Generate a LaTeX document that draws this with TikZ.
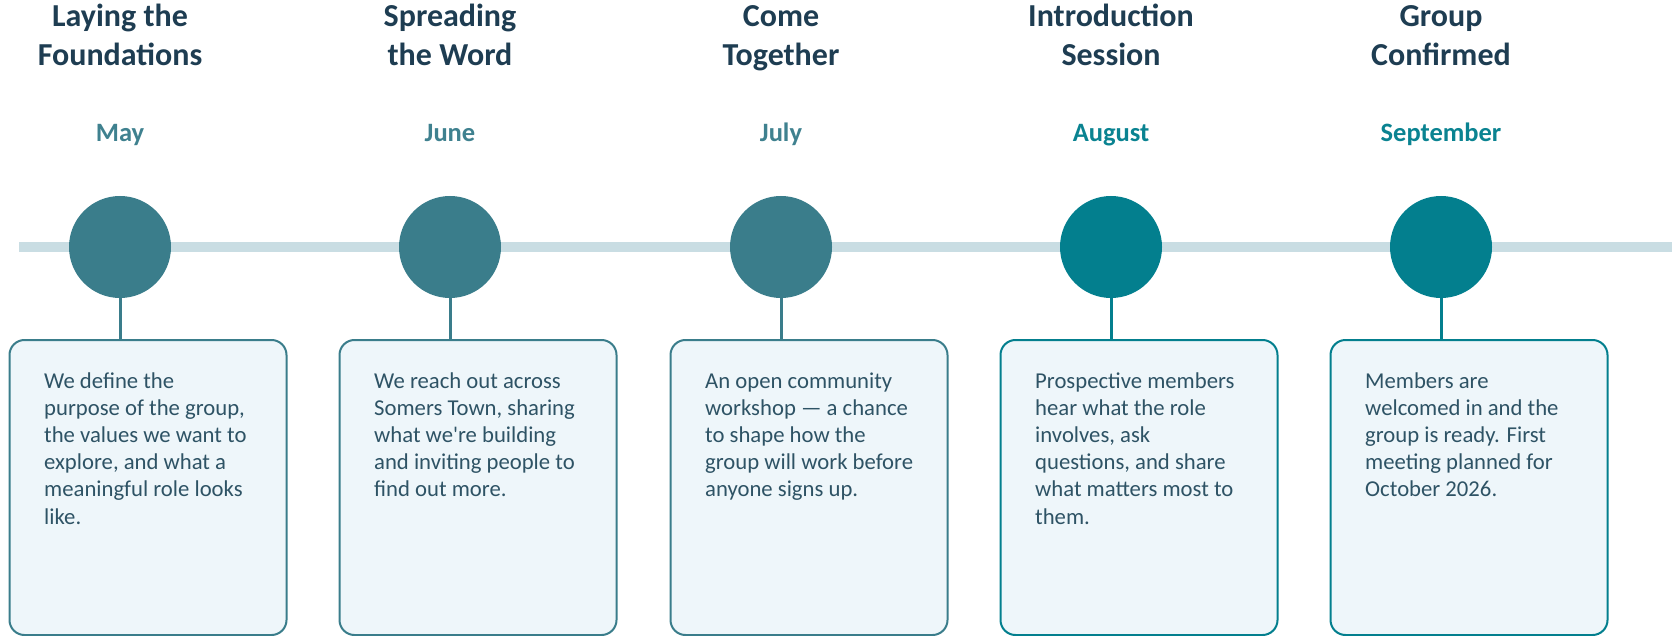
\documentclass[tikz,border=0pt]{standalone}
\usepackage{fontspec}
\setmainfont{Carlito}
\definecolor{linec}{HTML}{C9DDE3}
\definecolor{tealA}{HTML}{3A7D8B}
\definecolor{tealB}{HTML}{037F8E}
\definecolor{monA}{HTML}{3F818F}
\definecolor{monB}{HTML}{0A8391}
\definecolor{titlec}{HTML}{1E3D52}
\definecolor{bodyc}{HTML}{2E5365}
\definecolor{cardfill}{HTML}{EEF6FA}
\newcommand{\milestone}[7]{%
  \node[titletext] (t#1) at (#2,27) {\parbox[t]{340pt}{\centering #4}};
  \node[monthtext, text=#7] (m#1) at (#2,142) {#5};
  \node[card, draw=#3, anchor=north west] (c#1) at (#2-111.5,339) {};
  \node[dot, fill=#3] (d#1) at (#2,247) {};
  \draw[stem, draw=#3] (d#1.south) -- (c#1.north -| d#1.south);
  \node[bodytext] (b#1) at (#2-76,388) {\parbox[t]{250pt}{\raggedright #6}};
}
\begin{document}
\begin{tikzpicture}[x=1pt,y=-1pt,
  titletext/.style={text=titlec, font=\fontsize{32}{38.5}\selectfont\bfseries, anchor=base, inner sep=0},
  monthtext/.style={font=\fontsize{26.5}{31}\selectfont\bfseries, anchor=base, inner sep=0},
  dot/.style={circle, minimum size=102pt, inner sep=0},
  card/.style={line width=2pt, fill=cardfill, rounded corners=15pt, minimum width=277pt, minimum height=295pt},
  bodytext/.style={text=bodyc, font=\fontsize{22.7}{27.2}\selectfont, anchor=base west, inner sep=0},
  stem/.style={line width=3pt}]
\useasboundingbox (0,0) rectangle (1677,636);
\coordinate (L) at (19,247);
\coordinate (R) at (1672,247);
\draw[line width=10pt, draw=linec] (L) -- (R);
\milestone{1}{120}{tealA}{Laying the\\Foundations}{May}{We define the\\purpose of the group,\\the values we want to\\explore, and what a\\meaningful role looks\\like.}{monA}
\milestone{2}{450}{tealA}{Spreading\\the Word}{June}{We reach out across\\Somers Town, sharing\\what we\textquotesingle re building\\and inviting people to\\find out more.}{monA}
\milestone{3}{781}{tealA}{Come\\Together}{July}{An open community\\workshop — a chance\\to shape how the\\group will work before\\anyone signs up.}{monA}
\milestone{4}{1111}{tealB}{Introduction\\Session}{August}{Prospective members\\hear what the role\\involves, ask\\questions, and share\\what matters most to\\them.}{monB}
\milestone{5}{1441}{tealB}{Group\\Confirmed}{September}{Members are\\welcomed in and the\\group is ready. First\\meeting planned for\\October 2026.}{monB}
\end{tikzpicture}
\end{document}
